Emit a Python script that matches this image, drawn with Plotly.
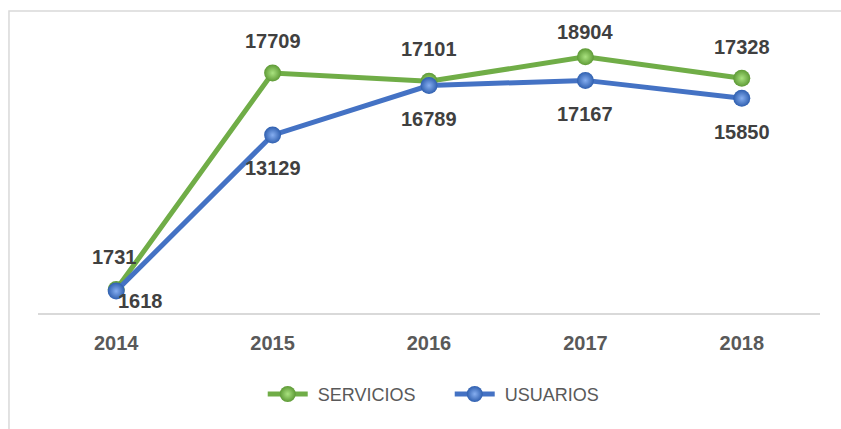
import plotly.graph_objects as go

years = ["2014", "2015", "2016", "2017", "2018"]
servicios = [1731, 17709, 17101, 18904, 17328]
usuarios = [1618, 13129, 16789, 17167, 15850]

GREEN = "#70AD47"
BLUE = "#4472C4"
FONT = "Liberation Sans, Arial, sans-serif"

fig = go.Figure()
fig.add_trace(go.Scatter(
    x=years, y=servicios, name=" SERVICIOS", mode="lines+markers",
    line=dict(color=GREEN, width=5),
    marker=dict(size=17, color="#5E9A36",
                gradient=dict(type="radial", color="#A9E27F"),
                line=dict(width=0)),
))
fig.add_trace(go.Scatter(
    x=years, y=usuarios, name=" USUARIOS", mode="lines+markers",
    line=dict(color=BLUE, width=5),
    marker=dict(size=17, color="#2F5FAF",
                gradient=dict(type="radial", color="#86AEF0"),
                line=dict(width=0)),
))

# data labels
serv_shift = [(-2, 33), (0, 32), (0, 32), (0, 25), (0, 31)]
usu_shift = [(24, -10), (0, -33), (0, -33), (0, -34), (0, -34)]
annotations = []
for i, (yr, v) in enumerate(zip(years, servicios)):
    annotations.append(dict(x=i, y=v, xref="x", yref="y", text="<b>%d</b>" % v,
                            showarrow=False, xshift=serv_shift[i][0], yshift=serv_shift[i][1],
                            font=dict(family=FONT, size=20, color="#404040")))
for i, (yr, v) in enumerate(zip(years, usuarios)):
    annotations.append(dict(x=i, y=v, xref="x", yref="y", text="<b>%d</b>" % v,
                            showarrow=False, xshift=usu_shift[i][0], yshift=usu_shift[i][1],
                            font=dict(family=FONT, size=20, color="#404040")))

fig.update_layout(
    annotations=annotations,
    shapes=[dict(type="rect", xref="paper", yref="paper",
                 x0=-0.0371, x1=1.2, y0=-1.0, y1=1.1144,
                 line=dict(color="#D9D9D9", width=1.5), layer="below")],
    width=841, height=429,
    margin=dict(l=38, r=21, t=42, b=116),
    paper_bgcolor="white", plot_bgcolor="white",
    xaxis=dict(type="category", range=[-0.5, 4.5], showgrid=False,
               showline=True, linecolor="#D9D9D9", linewidth=2,
               ticks="", zeroline=False, ticklabelstandoff=11,
               tickfont=dict(family=FONT, size=20, color="#595959", weight="bold")),
    yaxis=dict(range=[0, 20000], showgrid=False, showticklabels=False,
               zeroline=False, showline=False),
    legend=dict(orientation="h", x=0.5265, xanchor="center", y=-0.30, yanchor="middle",
                font=dict(family=FONT, size=18, color="#595959"),
                itemwidth=40, entrywidth=132, entrywidthmode="pixels",
                bgcolor="rgba(0,0,0,0)"),
    showlegend=True,
)

fig.write_html("out.html", config={"displayModeBar": False},
               post_script="document.body.style.margin='0';")
